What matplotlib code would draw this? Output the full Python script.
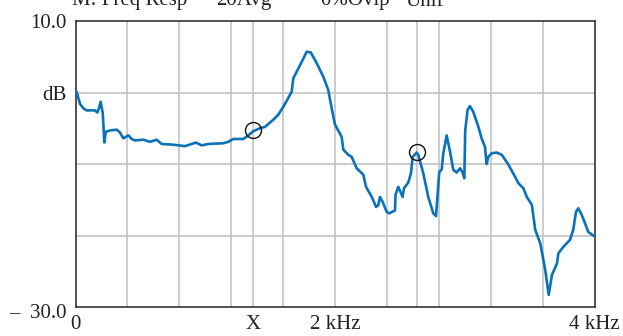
import matplotlib
matplotlib.use("Agg")
import matplotlib.pyplot as plt
import matplotlib.transforms as mtransforms
import numpy as np

# Frequency response (kHz, dB)
freq_khz = np.array([
    0.01, 0.035, 0.06, 0.086, 0.15, 0.168, 0.181, 0.194, 0.21, 0.222,
    0.233, 0.266, 0.317, 0.343, 0.368, 0.389, 0.407, 0.433, 0.458, 0.522,
    0.574, 0.625, 0.664, 0.753, 0.843, 0.895, 0.928, 0.972, 1.023, 1.138,
    1.177, 1.215, 1.293, 1.331, 1.370, 1.421, 1.46, 1.524, 1.562, 1.601,
    1.665, 1.678, 1.729, 1.781, 1.812, 1.858, 1.909, 1.947, 1.973, 1.999,
    2.05, 2.063, 2.101, 2.127, 2.166, 2.217, 2.238, 2.282, 2.315, 2.332,
    2.345, 2.366, 2.397, 2.417, 2.461, 2.465, 2.486, 2.52, 2.53, 2.563,
    2.584, 2.597, 2.628, 2.64, 2.679, 2.717, 2.756, 2.777, 2.802, 2.821,
    2.833, 2.859, 2.885, 2.91, 2.936, 2.962, 2.982, 2.995, 3.002, 3.02,
    3.038, 3.064, 3.103, 3.128, 3.154, 3.167, 3.18, 3.206, 3.244, 3.283,
    3.335, 3.386, 3.412, 3.45, 3.476, 3.515, 3.541, 3.58, 3.618, 3.645,
    3.67, 3.709, 3.719, 3.757, 3.809, 3.834, 3.855, 3.873, 3.899, 3.95,
    3.988, 4.0])
level_db = np.array([
    0.0, -1.6, -2.2, -2.5, -2.5, -2.8, -2.2, -1.3, -2.9, -7.0,
    -5.5, -5.3, -5.2, -5.6, -6.4, -6.2, -6.0, -6.5, -6.7, -6.6,
    -6.9, -6.6, -7.2, -7.3, -7.5, -7.2, -7.0, -7.4, -7.2, -7.1,
    -6.9, -6.5, -6.5, -6.0, -5.4, -5.0, -4.8, -3.8, -3.1, -2.0,
    0.1, 2.0, 3.8, 5.7, 5.6, 4.1, 2.2, 0.35, -2.2, -4.5,
    -6.2, -8.0, -8.7, -9.0, -10.6, -11.5, -13.2, -14.6, -16.0, -15.8,
    -14.6, -15.3, -16.7, -16.9, -16.5, -14.3, -13.2, -14.6, -13.4, -12.6,
    -11.3, -9.0, -8.4, -8.7, -11.3, -14.6, -16.9, -17.3, -11.1, -10.75,
    -8.5, -6.0, -8.3, -10.8, -11.2, -10.6, -11.2, -12.0, -5.3, -2.45,
    -1.9, -2.7, -4.8, -6.4, -7.6, -10.0, -9.0, -8.5, -8.4, -8.7,
    -10.1, -11.8, -12.7, -13.4, -14.6, -15.7, -19.2, -21.1, -24.8, -28.3,
    -25.5, -23.9, -22.5, -21.6, -20.6, -19.2, -16.7, -16.2, -17.1, -19.5,
    -20.0, -20.1])

# Marker (cursor) positions
marker_khz = [1.37, 2.632]
marker_db = [-5.3, -8.3]

x_ticks = [0, 1.37, 2, 4]
x_labels = ["0", "X", "2 kHz", "4 kHz"]
y_ticks = [10, 0, -30]
y_labels = ["10.0", "dB", "\u2013  30.0"]

plt.rcParams["font.family"] = ["Liberation Serif", "DejaVu Serif"]
plt.rcParams["font.size"] = 15

fig = plt.figure(figsize=(6.23, 3.36), dpi=100)
ax = fig.add_axes([75.5 / 623, 1 - 307 / 336, 519.3 / 623, 286 / 336])

# Grid
grid_color = "#c4c4c8"
for gx in [0.4, 0.8, 1.2, 1.6, 2.0, 2.4, 2.8, 3.2, 3.6, 1.37, 2.632]:
    ax.axvline(gx, color=grid_color, lw=1.2, zorder=1)
for gy in [0, -10, -20]:
    ax.axhline(gy, color=grid_color, lw=1.2, zorder=1)

ax.plot(freq_khz, level_db, color="#0a72b8", lw=1.9, zorder=3,
        solid_joinstyle="round")
ax.plot(marker_khz, marker_db, "o", ms=11.5, mfc="none", mec="#111111",
        mew=1.0, zorder=4)

ax.set_xlim(0, 4)
ax.set_ylim(-30, 10)
ax.set_xticks(x_ticks)
ax.set_xticklabels(x_labels)
ax.set_yticks(y_ticks)
ax.set_yticklabels(y_labels)
ax.tick_params(axis="both", length=0, colors="#222222")
ax.tick_params(axis="x", pad=6)
ax.tick_params(axis="y", pad=6.5)

# bottom label sits a little lower, as in the original
lab = ax.get_yticklabels()[2]
lab.set_transform(lab.get_transform() +
                  mtransforms.ScaledTranslation(0, -3.5 / 100, fig.dpi_scale_trans))

for s in ax.spines.values():
    s.set_color("#333333")
    s.set_linewidth(1.2)

# Header (partly cut off at the top edge, like the source)
ty = 1 - 5.5 / 336
for tx, txt in [(72.5, "M: Freq Resp"), (216, "20Avg"), (320, "0%Ovlp"), (405, "Unif")]:
    fig.text(tx / 623, ty, txt, va="baseline", ha="left", color="#222222")

fig.savefig("out.png", dpi=100)
